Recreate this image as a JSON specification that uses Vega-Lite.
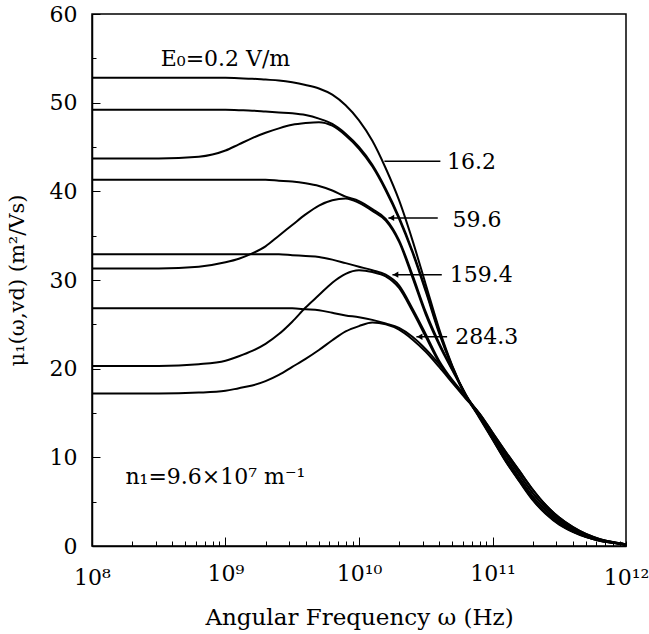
{
  "$schema": "https://vega.github.io/schema/vega-lite/v6.json",
  "width": 534,
  "height": 532,
  "autosize": "none",
  "padding": {"left": 92, "top": 14, "right": 23, "bottom": 88},
  "background": "white",
  "config": {
    "view": {"stroke": "black", "strokeWidth": 1.5},
    "font": "DejaVu Serif",
    "axis": {"grid": false, "domainColor": "black", "domainWidth": 1.5, "tickColor": "black", "labelColor": "black", "titleColor": "black", "labelFont": "DejaVu Serif", "titleFont": "DejaVu Serif", "titleFontWeight": "normal", "labelFlush": false, "labelOverlap": false}
  },
  "datasets": {
    "curves": [
      {"c":"A","f":1e8,"mu":52.8},{"c":"A","f":3.162e8,"mu":52.8},{"c":"A","f":6.31e8,"mu":52.8},{"c":"A","f":1e9,"mu":52.8},{"c":"A","f":1.259e9,"mu":52.75},{"c":"A","f":1.585e9,"mu":52.7},{"c":"A","f":1.995e9,"mu":52.6},{"c":"A","f":2.512e9,"mu":52.5},{"c":"A","f":3.162e9,"mu":52.3},{"c":"A","f":3.981e9,"mu":52.0},{"c":"A","f":5.012e9,"mu":51.6},{"c":"A","f":6.31e9,"mu":50.9},{"c":"A","f":7.943e9,"mu":49.7},{"c":"A","f":1e10,"mu":48.0},{"c":"A","f":1.259e10,"mu":45.7},{"c":"A","f":1.585e10,"mu":42.6},{"c":"A","f":1.995e10,"mu":39.0},{"c":"A","f":2.512e10,"mu":34.5},{"c":"A","f":3.162e10,"mu":29.5},{"c":"A","f":3.981e10,"mu":24.5},{"c":"A","f":5.012e10,"mu":20.3},{"c":"A","f":6.31e10,"mu":17.0},{"c":"A","f":7.943e10,"mu":14.5},{"c":"A","f":1e11,"mu":12.0},{"c":"A","f":1.259e11,"mu":9.5},{"c":"A","f":1.585e11,"mu":7.3},{"c":"A","f":1.995e11,"mu":5.2},{"c":"A","f":2.512e11,"mu":3.6},{"c":"A","f":3.162e11,"mu":2.4},{"c":"A","f":3.981e11,"mu":1.6},{"c":"A","f":5.012e11,"mu":1.0},{"c":"A","f":6.31e11,"mu":0.6},{"c":"A","f":7.943e11,"mu":0.35},{"c":"A","f":1e12,"mu":0.15},
      {"c":"B","f":1e8,"mu":49.2},{"c":"B","f":3.162e8,"mu":49.2},{"c":"B","f":6.31e8,"mu":49.2},{"c":"B","f":1e9,"mu":49.2},{"c":"B","f":1.259e9,"mu":49.15},{"c":"B","f":1.585e9,"mu":49.1},{"c":"B","f":1.995e9,"mu":49.0},{"c":"B","f":2.512e9,"mu":48.9},{"c":"B","f":3.162e9,"mu":48.8},{"c":"B","f":3.981e9,"mu":48.6},{"c":"B","f":5.012e9,"mu":48.2},{"c":"B","f":6.31e9,"mu":47.6},{"c":"B","f":7.943e9,"mu":46.5},{"c":"B","f":1e10,"mu":45.0},{"c":"B","f":1.259e10,"mu":43.0},{"c":"B","f":1.585e10,"mu":40.3},{"c":"B","f":1.995e10,"mu":37.1},{"c":"B","f":2.512e10,"mu":33.3},{"c":"B","f":3.162e10,"mu":28.9},{"c":"B","f":3.981e10,"mu":24.2},{"c":"B","f":5.012e10,"mu":20.2},{"c":"B","f":6.31e10,"mu":17.0},{"c":"B","f":7.943e10,"mu":14.6},{"c":"B","f":1e11,"mu":12.1},{"c":"B","f":1.259e11,"mu":9.6},{"c":"B","f":1.585e11,"mu":7.4},{"c":"B","f":1.995e11,"mu":5.3},{"c":"B","f":2.512e11,"mu":3.7},{"c":"B","f":3.162e11,"mu":2.5},{"c":"B","f":3.981e11,"mu":1.65},{"c":"B","f":5.012e11,"mu":1.05},{"c":"B","f":6.31e11,"mu":0.62},{"c":"B","f":7.943e11,"mu":0.36},{"c":"B","f":1e12,"mu":0.16},
      {"c":"C","f":1e8,"mu":43.7},{"c":"C","f":3.162e8,"mu":43.7},{"c":"C","f":6.31e8,"mu":43.9},{"c":"C","f":1e9,"mu":44.6},{"c":"C","f":1.259e9,"mu":45.3},{"c":"C","f":1.585e9,"mu":46.0},{"c":"C","f":1.995e9,"mu":46.6},{"c":"C","f":2.512e9,"mu":47.1},{"c":"C","f":3.162e9,"mu":47.5},{"c":"C","f":3.981e9,"mu":47.7},{"c":"C","f":5.012e9,"mu":47.8},{"c":"C","f":6.31e9,"mu":47.4},{"c":"C","f":7.943e9,"mu":46.3},{"c":"C","f":1e10,"mu":44.8},{"c":"C","f":1.259e10,"mu":42.8},{"c":"C","f":1.585e10,"mu":40.1},{"c":"C","f":1.995e10,"mu":36.9},{"c":"C","f":2.512e10,"mu":33.1},{"c":"C","f":3.162e10,"mu":28.7},{"c":"C","f":3.981e10,"mu":24.0},{"c":"C","f":5.012e10,"mu":20.1},{"c":"C","f":6.31e10,"mu":16.9},{"c":"C","f":7.943e10,"mu":14.6},{"c":"C","f":1e11,"mu":12.1},{"c":"C","f":1.259e11,"mu":9.6},{"c":"C","f":1.585e11,"mu":7.4},{"c":"C","f":1.995e11,"mu":5.3},{"c":"C","f":2.512e11,"mu":3.7},{"c":"C","f":3.162e11,"mu":2.5},{"c":"C","f":3.981e11,"mu":1.65},{"c":"C","f":5.012e11,"mu":1.05},{"c":"C","f":6.31e11,"mu":0.62},{"c":"C","f":7.943e11,"mu":0.36},{"c":"C","f":1e12,"mu":0.16},
      {"c":"D","f":1e8,"mu":41.3},{"c":"D","f":3.162e8,"mu":41.3},{"c":"D","f":6.31e8,"mu":41.3},{"c":"D","f":1e9,"mu":41.3},{"c":"D","f":1.259e9,"mu":41.3},{"c":"D","f":1.585e9,"mu":41.3},{"c":"D","f":1.995e9,"mu":41.3},{"c":"D","f":2.512e9,"mu":41.2},{"c":"D","f":3.162e9,"mu":41.1},{"c":"D","f":3.981e9,"mu":40.9},{"c":"D","f":5.012e9,"mu":40.6},{"c":"D","f":6.31e9,"mu":40.1},{"c":"D","f":7.943e9,"mu":39.4},{"c":"D","f":1e10,"mu":38.9},{"c":"D","f":1.259e10,"mu":38.0},{"c":"D","f":1.585e10,"mu":36.9},{"c":"D","f":1.995e10,"mu":34.5},{"c":"D","f":2.512e10,"mu":30.6},{"c":"D","f":3.162e10,"mu":26.4},{"c":"D","f":3.981e10,"mu":22.9},{"c":"D","f":5.012e10,"mu":19.9},{"c":"D","f":6.31e10,"mu":17.1},{"c":"D","f":7.943e10,"mu":14.7},{"c":"D","f":1e11,"mu":12.3},{"c":"D","f":1.259e11,"mu":9.9},{"c":"D","f":1.585e11,"mu":7.7},{"c":"D","f":1.995e11,"mu":5.6},{"c":"D","f":2.512e11,"mu":4.0},{"c":"D","f":3.162e11,"mu":2.7},{"c":"D","f":3.981e11,"mu":1.8},{"c":"D","f":5.012e11,"mu":1.15},{"c":"D","f":6.31e11,"mu":0.68},{"c":"D","f":7.943e11,"mu":0.39},{"c":"D","f":1e12,"mu":0.17},
      {"c":"E","f":1e8,"mu":31.3},{"c":"E","f":3.162e8,"mu":31.3},{"c":"E","f":6.31e8,"mu":31.5},{"c":"E","f":1e9,"mu":32.0},{"c":"E","f":1.259e9,"mu":32.4},{"c":"E","f":1.585e9,"mu":33.0},{"c":"E","f":1.995e9,"mu":33.8},{"c":"E","f":2.512e9,"mu":35.0},{"c":"E","f":3.162e9,"mu":36.2},{"c":"E","f":3.981e9,"mu":37.4},{"c":"E","f":5.012e9,"mu":38.4},{"c":"E","f":6.31e9,"mu":39.0},{"c":"E","f":7.943e9,"mu":39.2},{"c":"E","f":1e10,"mu":38.7},{"c":"E","f":1.259e10,"mu":37.8},{"c":"E","f":1.585e10,"mu":36.7},{"c":"E","f":1.995e10,"mu":34.3},{"c":"E","f":2.512e10,"mu":30.3},{"c":"E","f":3.162e10,"mu":26.1},{"c":"E","f":3.981e10,"mu":22.7},{"c":"E","f":5.012e10,"mu":19.8},{"c":"E","f":6.31e10,"mu":17.0},{"c":"E","f":7.943e10,"mu":14.7},{"c":"E","f":1e11,"mu":12.3},{"c":"E","f":1.259e11,"mu":9.9},{"c":"E","f":1.585e11,"mu":7.7},{"c":"E","f":1.995e11,"mu":5.6},{"c":"E","f":2.512e11,"mu":4.0},{"c":"E","f":3.162e11,"mu":2.7},{"c":"E","f":3.981e11,"mu":1.8},{"c":"E","f":5.012e11,"mu":1.15},{"c":"E","f":6.31e11,"mu":0.68},{"c":"E","f":7.943e11,"mu":0.39},{"c":"E","f":1e12,"mu":0.17},
      {"c":"F","f":1e8,"mu":32.9},{"c":"F","f":3.162e8,"mu":32.9},{"c":"F","f":6.31e8,"mu":32.9},{"c":"F","f":1e9,"mu":32.9},{"c":"F","f":1.259e9,"mu":32.9},{"c":"F","f":1.585e9,"mu":32.9},{"c":"F","f":1.995e9,"mu":32.9},{"c":"F","f":2.512e9,"mu":32.9},{"c":"F","f":3.162e9,"mu":32.8},{"c":"F","f":3.981e9,"mu":32.7},{"c":"F","f":5.012e9,"mu":32.6},{"c":"F","f":6.31e9,"mu":32.3},{"c":"F","f":7.943e9,"mu":31.9},{"c":"F","f":1e10,"mu":31.5},{"c":"F","f":1.259e10,"mu":31.1},{"c":"F","f":1.585e10,"mu":30.6},{"c":"F","f":1.995e10,"mu":29.4},{"c":"F","f":2.512e10,"mu":26.8},{"c":"F","f":3.162e10,"mu":23.9},{"c":"F","f":3.981e10,"mu":20.9},{"c":"F","f":5.012e10,"mu":18.7},{"c":"F","f":6.31e10,"mu":16.9},{"c":"F","f":7.943e10,"mu":14.9},{"c":"F","f":1e11,"mu":12.6},{"c":"F","f":1.259e11,"mu":10.3},{"c":"F","f":1.585e11,"mu":8.1},{"c":"F","f":1.995e11,"mu":6.0},{"c":"F","f":2.512e11,"mu":4.3},{"c":"F","f":3.162e11,"mu":2.95},{"c":"F","f":3.981e11,"mu":1.95},{"c":"F","f":5.012e11,"mu":1.25},{"c":"F","f":6.31e11,"mu":0.74},{"c":"F","f":7.943e11,"mu":0.42},{"c":"F","f":1e12,"mu":0.18},
      {"c":"G","f":1e8,"mu":20.3},{"c":"G","f":3.162e8,"mu":20.3},{"c":"G","f":6.31e8,"mu":20.5},{"c":"G","f":1e9,"mu":20.9},{"c":"G","f":1.259e9,"mu":21.4},{"c":"G","f":1.585e9,"mu":22.0},{"c":"G","f":1.995e9,"mu":22.8},{"c":"G","f":2.512e9,"mu":23.9},{"c":"G","f":3.162e9,"mu":25.3},{"c":"G","f":3.981e9,"mu":26.9},{"c":"G","f":5.012e9,"mu":28.3},{"c":"G","f":6.31e9,"mu":29.7},{"c":"G","f":7.943e9,"mu":30.7},{"c":"G","f":1e10,"mu":31.1},{"c":"G","f":1.259e10,"mu":30.9},{"c":"G","f":1.585e10,"mu":30.4},{"c":"G","f":1.995e10,"mu":29.1},{"c":"G","f":2.512e10,"mu":26.5},{"c":"G","f":3.162e10,"mu":23.6},{"c":"G","f":3.981e10,"mu":20.7},{"c":"G","f":5.012e10,"mu":18.5},{"c":"G","f":6.31e10,"mu":16.8},{"c":"G","f":7.943e10,"mu":14.9},{"c":"G","f":1e11,"mu":12.6},{"c":"G","f":1.259e11,"mu":10.3},{"c":"G","f":1.585e11,"mu":8.1},{"c":"G","f":1.995e11,"mu":6.0},{"c":"G","f":2.512e11,"mu":4.3},{"c":"G","f":3.162e11,"mu":2.95},{"c":"G","f":3.981e11,"mu":1.95},{"c":"G","f":5.012e11,"mu":1.25},{"c":"G","f":6.31e11,"mu":0.74},{"c":"G","f":7.943e11,"mu":0.42},{"c":"G","f":1e12,"mu":0.18},
      {"c":"H","f":1e8,"mu":26.8},{"c":"H","f":3.162e8,"mu":26.8},{"c":"H","f":6.31e8,"mu":26.8},{"c":"H","f":1e9,"mu":26.8},{"c":"H","f":1.259e9,"mu":26.8},{"c":"H","f":1.585e9,"mu":26.8},{"c":"H","f":1.995e9,"mu":26.8},{"c":"H","f":2.512e9,"mu":26.8},{"c":"H","f":3.162e9,"mu":26.8},{"c":"H","f":3.981e9,"mu":26.7},{"c":"H","f":5.012e9,"mu":26.6},{"c":"H","f":6.31e9,"mu":26.3},{"c":"H","f":7.943e9,"mu":26.0},{"c":"H","f":1e10,"mu":25.8},{"c":"H","f":1.259e10,"mu":25.5},{"c":"H","f":1.585e10,"mu":25.1},{"c":"H","f":1.995e10,"mu":24.6},{"c":"H","f":2.512e10,"mu":23.6},{"c":"H","f":3.162e10,"mu":22.2},{"c":"H","f":3.981e10,"mu":20.5},{"c":"H","f":5.012e10,"mu":18.6},{"c":"H","f":6.31e10,"mu":16.7},{"c":"H","f":7.943e10,"mu":15.0},{"c":"H","f":1e11,"mu":12.8},{"c":"H","f":1.259e11,"mu":10.6},{"c":"H","f":1.585e11,"mu":8.5},{"c":"H","f":1.995e11,"mu":6.4},{"c":"H","f":2.512e11,"mu":4.6},{"c":"H","f":3.162e11,"mu":3.2},{"c":"H","f":3.981e11,"mu":2.15},{"c":"H","f":5.012e11,"mu":1.35},{"c":"H","f":6.31e11,"mu":0.8},{"c":"H","f":7.943e11,"mu":0.45},{"c":"H","f":1e12,"mu":0.2},
      {"c":"I","f":1e8,"mu":17.2},{"c":"I","f":3.162e8,"mu":17.2},{"c":"I","f":6.31e8,"mu":17.3},{"c":"I","f":1e9,"mu":17.5},{"c":"I","f":1.259e9,"mu":17.8},{"c":"I","f":1.585e9,"mu":18.1},{"c":"I","f":1.995e9,"mu":18.6},{"c":"I","f":2.512e9,"mu":19.3},{"c":"I","f":3.162e9,"mu":20.2},{"c":"I","f":3.981e9,"mu":21.1},{"c":"I","f":5.012e9,"mu":22.1},{"c":"I","f":6.31e9,"mu":23.2},{"c":"I","f":7.943e9,"mu":24.2},{"c":"I","f":1e10,"mu":24.8},{"c":"I","f":1.259e10,"mu":25.2},{"c":"I","f":1.585e10,"mu":25.0},{"c":"I","f":1.995e10,"mu":24.4},{"c":"I","f":2.512e10,"mu":23.3},{"c":"I","f":3.162e10,"mu":21.9},{"c":"I","f":3.981e10,"mu":20.2},{"c":"I","f":5.012e10,"mu":18.4},{"c":"I","f":6.31e10,"mu":16.6},{"c":"I","f":7.943e10,"mu":15.0},{"c":"I","f":1e11,"mu":12.8},{"c":"I","f":1.259e11,"mu":10.6},{"c":"I","f":1.585e11,"mu":8.5},{"c":"I","f":1.995e11,"mu":6.4},{"c":"I","f":2.512e11,"mu":4.6},{"c":"I","f":3.162e11,"mu":3.2},{"c":"I","f":3.981e11,"mu":2.15},{"c":"I","f":5.012e11,"mu":1.35},{"c":"I","f":6.31e11,"mu":0.8},{"c":"I","f":7.943e11,"mu":0.45},{"c":"I","f":1e12,"mu":0.2}
    ],
    "leaders": [
      {"f":1.55e10,"f2":4.07e10,"mu":43.4},
      {"f":1.66e10,"f2":3.89e10,"mu":37.0},
      {"f":1.78e10,"f2":4.17e10,"mu":30.6},
      {"f":2.69e10,"f2":4.57e10,"mu":23.6}
    ],
    "arrows": [
      {"f":1.75e10,"mu":37.0},
      {"f":1.88e10,"mu":30.6},
      {"f":2.85e10,"mu":23.6}
    ],
    "labels": [
      {"f":4.57e10,"mu":43.3,"t":"16.2"},
      {"f":5.01e10,"mu":36.8,"t":"59.6"},
      {"f":4.79e10,"mu":30.6,"t":"159.4"},
      {"f":5.25e10,"mu":23.6,"t":"284.3"},
      {"f":1.78e8,"mu":7.8,"t":"n₁=9.6×10⁷ m⁻¹"}
    ],
    "title": [
      {"f":1e9,"mu":54.9,"t":"E₀=0.2 V/m"}
    ]
  },
  "layer": [
    {
      "data": {"name": "curves"},
      "mark": {"type": "line", "color": "black", "strokeWidth": 2, "interpolate": "monotone", "clip": true},
      "encoding": {
        "x": {"field": "f", "type": "quantitative",
          "scale": {"type": "log", "domain": [1e8, 1e12], "nice": false},
          "axis": {"title": "Angular Frequency ω (Hz)", "titleFontSize": 23, "titlePadding": 18,
            "values": [1e8,2e8,3e8,4e8,5e8,6e8,7e8,8e8,9e8,1e9,2e9,3e9,4e9,5e9,6e9,7e9,8e9,9e9,1e10,2e10,3e10,4e10,5e10,6e10,7e10,8e10,9e10,1e11,2e11,3e11,4e11,5e11,6e11,7e11,8e11,9e11,1e12],
            "labelExpr": "datum.value == 1e8 ? '10⁸' : datum.value == 1e9 ? '10⁹' : datum.value == 1e10 ? '10¹⁰' : datum.value == 1e11 ? '10¹¹' : datum.value == 1e12 ? '10¹²' : ''",
            "labelFontSize": 22, "labelPadding": 26,
            "tickSize": {"condition": {"test": "datum.value == 1e9 || datum.value == 1e10 || datum.value == 1e11", "value": -9}, "value": -5}}},
        "y": {"field": "mu", "type": "quantitative",
          "scale": {"domain": [0, 60], "nice": false},
          "axis": {"title": "μ₁(ω,vd) (m²/Vs)", "titleFontSize": 21, "titlePadding": 22,
            "values": [0,5,10,15,20,25,30,35,40,45,50,55,60],
            "labelExpr": "datum.value % 10 == 0 ? datum.label : ''",
            "labelFontSize": 22, "labelPadding": 23,
            "tickSize": {"condition": {"test": "datum.value % 10 == 0", "value": -8}, "value": -4}}},
        "detail": {"field": "c"}
      }
    },
    {
      "data": {"name": "leaders"},
      "mark": {"type": "rule", "color": "black", "strokeWidth": 1.5},
      "encoding": {
        "x": {"field": "f", "type": "quantitative"},
        "x2": {"field": "f2"},
        "y": {"field": "mu", "type": "quantitative"}
      }
    },
    {
      "data": {"name": "arrows"},
      "mark": {"type": "point", "shape": "triangle-left", "filled": true, "color": "black", "size": 40, "opacity": 1},
      "encoding": {
        "x": {"field": "f", "type": "quantitative"},
        "y": {"field": "mu", "type": "quantitative"}
      }
    },
    {
      "data": {"name": "labels"},
      "mark": {"type": "text", "align": "left", "baseline": "middle", "font": "DejaVu Serif", "fontSize": 22, "color": "black"},
      "encoding": {
        "x": {"field": "f", "type": "quantitative"},
        "y": {"field": "mu", "type": "quantitative"},
        "text": {"field": "t"}
      }
    },
    {
      "data": {"name": "title"},
      "mark": {"type": "text", "align": "center", "baseline": "middle", "font": "DejaVu Serif", "fontSize": 22, "color": "black"},
      "encoding": {
        "x": {"field": "f", "type": "quantitative"},
        "y": {"field": "mu", "type": "quantitative"},
        "text": {"field": "t"}
      }
    }
  ]
}
